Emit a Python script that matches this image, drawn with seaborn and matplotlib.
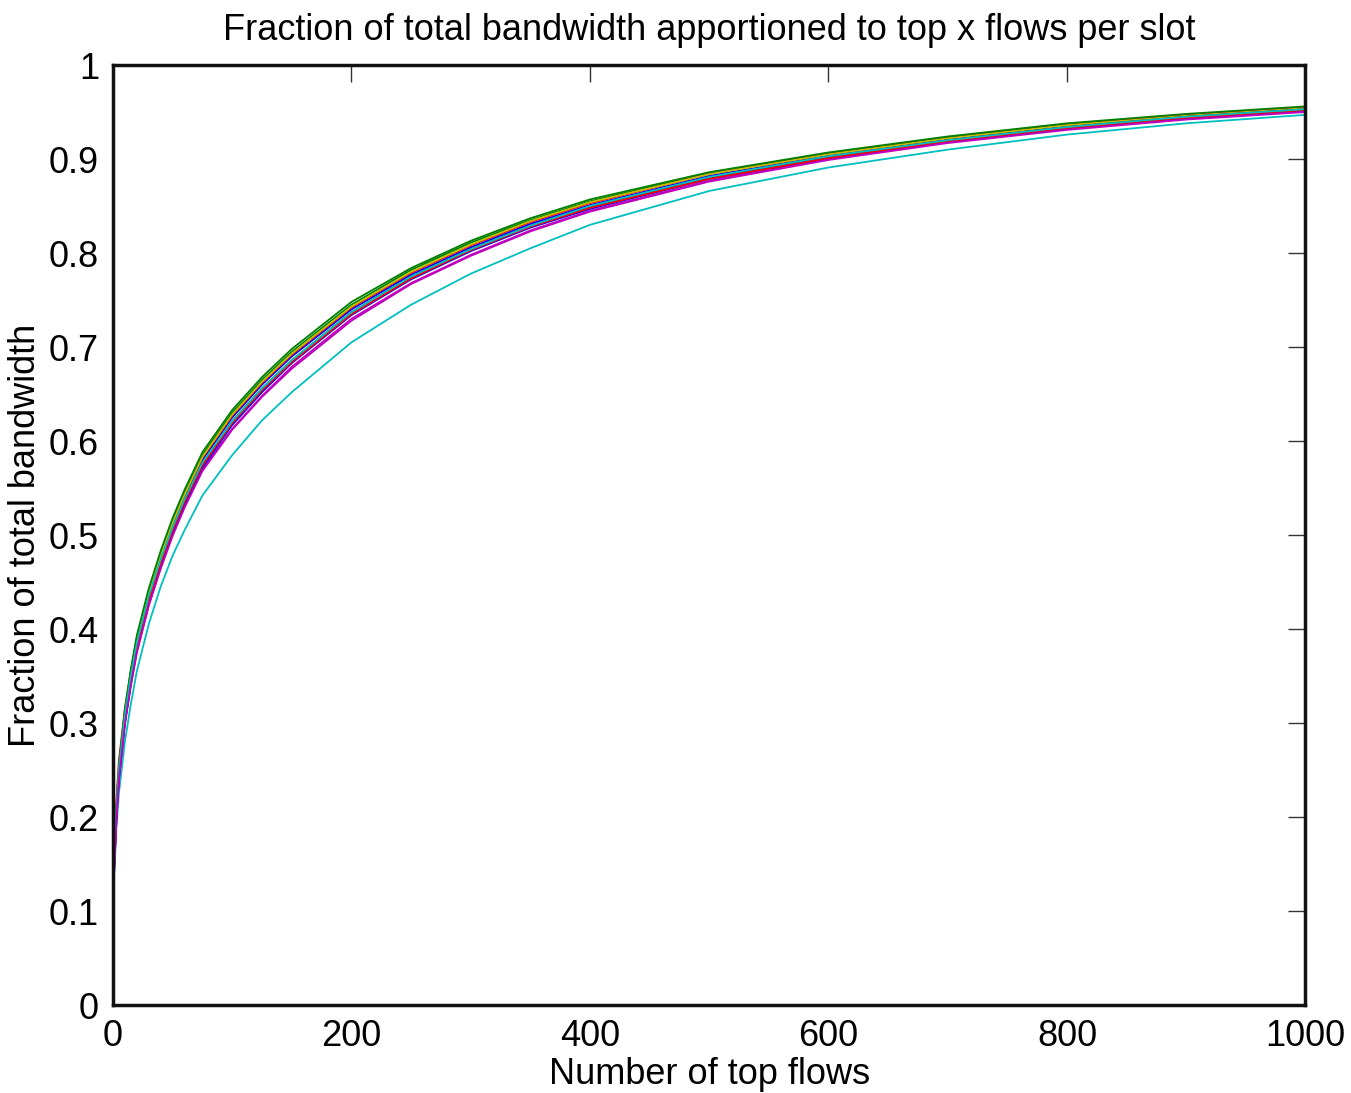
import numpy as np
import pandas as pd
import seaborn as sns
import matplotlib
matplotlib.use('Agg')
import matplotlib.pyplot as plt

# Number of top flows at which each curve is read
x_flows = [1, 3, 5, 10, 15, 20, 30, 40, 50, 60, 75, 100, 125, 150, 200,
           250, 300, 350, 400, 500, 600, 700, 800, 900, 1000]

# Fraction of total bandwidth, one list per slot
slot_01 = [0.150, 0.210, 0.250, 0.310, 0.350, 0.385, 0.435, 0.475, 0.510, 0.540, 0.580, 0.625, 0.660,
           0.690, 0.740, 0.777, 0.806, 0.831, 0.851, 0.882, 0.904, 0.921, 0.935, 0.946, 0.954]
slot_02 = [0.150, 0.210, 0.250, 0.310, 0.355, 0.390, 0.440, 0.480, 0.515, 0.545, 0.585, 0.630, 0.665,
           0.695, 0.745, 0.782, 0.811, 0.835, 0.855, 0.885, 0.906, 0.923, 0.937, 0.947, 0.955]
slot_03 = [0.160, 0.220, 0.260, 0.315, 0.355, 0.390, 0.440, 0.478, 0.512, 0.542, 0.582, 0.627, 0.662,
           0.692, 0.742, 0.779, 0.808, 0.833, 0.853, 0.884, 0.905, 0.922, 0.936, 0.947, 0.955]
slot_04 = [0.140, 0.190, 0.225, 0.280, 0.320, 0.355, 0.405, 0.445, 0.478, 0.505, 0.542, 0.585, 0.622,
           0.652, 0.705, 0.745, 0.778, 0.805, 0.830, 0.866, 0.891, 0.910, 0.926, 0.938, 0.947]
slot_05 = [0.140, 0.200, 0.240, 0.300, 0.340, 0.375, 0.425, 0.465, 0.500, 0.530, 0.570, 0.613, 0.648,
           0.679, 0.730, 0.768, 0.798, 0.824, 0.845, 0.877, 0.900, 0.918, 0.932, 0.943, 0.951]
slot_06 = [0.150, 0.210, 0.250, 0.310, 0.352, 0.388, 0.438, 0.478, 0.513, 0.543, 0.583, 0.628, 0.663,
           0.693, 0.743, 0.780, 0.809, 0.834, 0.854, 0.884, 0.905, 0.922, 0.936, 0.946, 0.954]
slot_07 = [0.150, 0.205, 0.245, 0.305, 0.347, 0.382, 0.432, 0.472, 0.507, 0.537, 0.576, 0.621, 0.656,
           0.686, 0.737, 0.775, 0.804, 0.829, 0.849, 0.880, 0.902, 0.920, 0.934, 0.945, 0.953]
slot_08 = [0.145, 0.200, 0.240, 0.300, 0.342, 0.378, 0.428, 0.468, 0.503, 0.533, 0.572, 0.617, 0.652,
           0.683, 0.734, 0.772, 0.802, 0.827, 0.847, 0.879, 0.901, 0.919, 0.933, 0.944, 0.952]
slot_09 = [0.155, 0.215, 0.255, 0.315, 0.357, 0.393, 0.443, 0.483, 0.518, 0.548, 0.588, 0.633, 0.668,
           0.698, 0.748, 0.784, 0.813, 0.837, 0.857, 0.886, 0.907, 0.924, 0.938, 0.948, 0.956]
slot_10 = [0.145, 0.205, 0.245, 0.303, 0.345, 0.380, 0.430, 0.470, 0.505, 0.535, 0.574, 0.619, 0.654,
           0.684, 0.735, 0.773, 0.803, 0.828, 0.848, 0.879, 0.901, 0.919, 0.933, 0.944, 0.952]
slot_11 = [0.150, 0.210, 0.250, 0.308, 0.350, 0.385, 0.435, 0.474, 0.508, 0.538, 0.577, 0.621, 0.656,
           0.686, 0.737, 0.775, 0.804, 0.829, 0.850, 0.881, 0.903, 0.920, 0.934, 0.945, 0.953]
slot_12 = [0.145, 0.200, 0.240, 0.298, 0.340, 0.375, 0.425, 0.464, 0.499, 0.529, 0.568, 0.612, 0.647,
           0.677, 0.728, 0.767, 0.797, 0.823, 0.844, 0.876, 0.899, 0.917, 0.931, 0.942, 0.950]

slots = [slot_01, slot_02, slot_03, slot_04, slot_05, slot_06,
         slot_07, slot_08, slot_09, slot_10, slot_11, slot_12]

x_ticks = [0, 200, 400, 600, 800, 1000]
y_ticks = [0, 0.1, 0.2, 0.3, 0.4, 0.5, 0.6, 0.7, 0.8, 0.9, 1]
y_tick_labels = ['0', '0.1', '0.2', '0.3', '0.4', '0.5', '0.6', '0.7', '0.8', '0.9', '1']

# old matlab colour order
matlab_colors = ['#0000ff', '#008000', '#ff0000', '#00bfbf', '#bf00bf', '#bfbf00', '#404040']

rows = []
for i, vals in enumerate(slots):
    for x, v in zip(x_flows, vals):
        rows.append({'flows': x, 'fraction': v, 'slot': f'slot {i + 1}'})
df = pd.DataFrame(rows)

sns.set_style('white')
plt.rcParams['font.family'] = ['Liberation Sans', 'DejaVu Sans']
plt.rcParams['text.color'] = 'black'
plt.rcParams['axes.labelcolor'] = 'black'

fig = plt.figure(figsize=(13.51, 10.93), dpi=100)
ax = fig.add_axes([0.0836, 0.0805, 0.8827, 0.86])

palette = [matlab_colors[i % len(matlab_colors)] for i in range(len(slots))]
sns.lineplot(data=df, x='flows', y='fraction', hue='slot', palette=palette,
             linewidth=1.3, legend=False, ax=ax)

ax.set_xlim(0, 1000)
ax.set_ylim(0, 1)
ax.set_xticks(x_ticks)
ax.set_yticks(y_ticks)
ax.set_yticklabels(y_tick_labels)
ax.tick_params(direction='in', length=12, width=1, top=True, right=True,
               labelsize=26, colors='#333333', labelcolor='black', pad=10)
for s in ax.spines.values():
    s.set_visible(True)
    s.set_linewidth(2.5)
    s.set_color('#111111')

ax.set_title('Fraction of total bandwidth apportioned to top x flows per slot',
             fontsize=26, pad=18, color='black')
ax.set_xlabel('Number of top flows', fontsize=26, labelpad=2)
ax.set_ylabel('Fraction of total bandwidth', fontsize=26, labelpad=4)

plt.savefig('out.png', dpi=100)
